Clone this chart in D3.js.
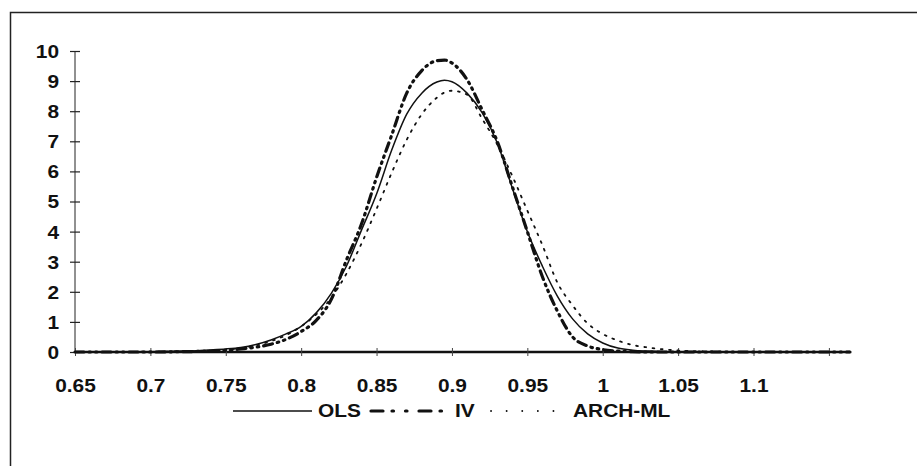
<!DOCTYPE html>
<html>
<head>
<meta charset="utf-8">
<script src="https://cdn.jsdelivr.net/npm/d3@7/dist/d3.min.js"></script>
<style>
  html, body { margin: 0; padding: 0; background: #fff; }
  svg { display: block; }
  text { font-family: "Liberation Sans", Arial, sans-serif; font-weight: bold; fill: #111; }
</style>
</head>
<body>
<svg id="chart" width="917" height="466"></svg>
<script>
// ---- data ----
const xValues = [0.65, 0.70, 0.72, 0.74, 0.75, 0.76, 0.77, 0.78, 0.79, 0.80,
                 0.81, 0.82, 0.83, 0.84, 0.85, 0.86, 0.87, 0.88, 0.89, 0.895,
                 0.90, 0.91, 0.92, 0.93, 0.94, 0.95, 0.96, 0.97, 0.98, 0.99,
                 1.00, 1.01, 1.02, 1.03, 1.04, 1.05, 1.07, 1.10, 1.164];
const olsValues = [0.00, 0.01, 0.03, 0.07, 0.10, 0.15, 0.25, 0.40, 0.60, 0.85,
                   1.30, 1.95, 2.85, 4.05, 5.25, 6.70, 7.90, 8.60, 8.97, 9.03,
                   8.98, 8.60, 7.95, 6.95, 5.45, 4.00, 2.85, 1.85, 1.10, 0.60,
                   0.30, 0.13, 0.06, 0.03, 0.01, 0.00, 0.00, 0.00, 0.00];
const ivValues  = [0.00, 0.00, 0.01, 0.03, 0.05, 0.10, 0.16, 0.26, 0.42, 0.68,
                   1.05, 1.75, 3.05, 4.25, 5.80, 7.20, 8.60, 9.35, 9.68, 9.70,
                   9.60, 9.05, 8.05, 7.00, 5.50, 4.00, 2.50, 1.35, 0.50, 0.20,
                   0.08, 0.03, 0.01, 0.00, 0.00, 0.00, 0.00, 0.00, 0.00];
const archValues = [0.00, 0.01, 0.02, 0.05, 0.08, 0.13, 0.22, 0.36, 0.56, 0.85,
                    1.25, 1.80, 2.60, 3.60, 4.75, 5.95, 7.05, 7.90, 8.45, 8.62,
                    8.68, 8.55, 7.75, 6.90, 5.85, 4.70, 3.55, 2.30, 1.55, 0.95,
                    0.60, 0.38, 0.23, 0.15, 0.09, 0.05, 0.02, 0.00, 0.00];
const xTickValues = [0.65, 0.70, 0.75, 0.80, 0.85, 0.90, 0.95, 1.00, 1.05, 1.10, 1.15];
const xTickLabels = ["0.65", "0.7", "0.75", "0.8", "0.85", "0.9", "0.95", "1", "1.05", "1.1", ""];
const yTickValues = [0, 1, 2, 3, 4, 5, 6, 7, 8, 9, 10];
const seriesNames = ["OLS", "IV", "ARCH-ML"];

// ---- layout ----
const svg = d3.select("#chart");
const SX = 1.16; // horizontal stretch of the scanned lettering
const FS = "18px";
const x = d3.scaleLinear().domain([0.65, 1.164]).range([75, 850]);
const y = d3.scaleLinear().domain([0, 10]).range([352, 51]);

// frame (top and left edges visible)
svg.append("path")
  .attr("d", "M10.5,466 L10.5,12.5 L917,12.5")
  .attr("fill", "none").attr("stroke", "#222").attr("stroke-width", 1.5);

// y axis
const yAxis = svg.append("g").attr("transform", `translate(${x(0.65)},0)`)
  .call(d3.axisLeft(y).tickValues(yTickValues).tickFormat(d3.format("d")).tickSize(5).tickPadding(0));
yAxis.select(".domain").attr("stroke", "#222").attr("stroke-width", 1)
  .attr("d", `M0,${y(10)}V${y(0)}`);
yAxis.selectAll(".tick line").attr("x1", 5).attr("x2", -5).attr("stroke", "#222").attr("stroke-width", 1.2);
yAxis.selectAll(".tick text")
  .attr("x", -16 / SX).attr("dy", "0.36em")
  .attr("transform", `scale(${SX},1)`)
  .style("font-size", FS)
  .attr("fill", "#111");

// x axis
const xAxis = svg.append("g").attr("transform", `translate(0,${y(0)})`)
  .call(d3.axisBottom(x).tickValues(xTickValues)
        .tickFormat((d, i) => xTickLabels[i]).tickSize(3).tickPadding(0));
xAxis.select(".domain").attr("stroke", "#111").attr("stroke-width", 2.4)
  .attr("d", `M${x(0.65)},0H${x(1.164)}`);
xAxis.selectAll(".tick line").attr("y1", -4).attr("y2", 4).attr("stroke", "#444").attr("stroke-width", 1);
xAxis.selectAll(".tick text")
  .attr("y", 40).attr("dy", "0")
  .attr("transform", `scale(${SX},1)`)
  .style("font-size", FS)
  .attr("fill", "#111");
svg.selectAll("g").attr("font-family", null).attr("font-size", null);

// lines
const pts = vals => xValues.map((xv, i) => [xv, vals[i]]);
const line = d3.line().x(d => x(d[0])).y(d => y(d[1])).curve(d3.curveMonotoneX);

const styles = [
  { vals: archValues, w: 1.8, dash: "1.8,6.5", cap: "round" },
  { vals: olsValues,  w: 1.5, dash: null, cap: "butt" },
  { vals: ivValues,   w: 3.2, dash: "9,5,1.5,5,1.5,5", cap: "round" }
];
styles.forEach(s => {
  svg.append("path")
    .attr("d", line(pts(s.vals)))
    .attr("fill", "none").attr("stroke", "#111")
    .attr("stroke-width", s.w)
    .attr("stroke-linecap", s.cap)
    .attr("stroke-dasharray", s.dash);
});

// legend
const legendY = 411;
const legendItems = [
  { name: seriesNames[0], x1: 233, x2: 312, tx: 318, w: 1.5, dash: null, cap: "butt" },
  { name: seriesNames[1], x1: 371, x2: 449, tx: 455, w: 3.2, dash: "12,9,1.5,12,1.5,12", cap: "round" },
  { name: seriesNames[2], x1: 491, x2: 555, tx: 573, w: 1.8, dash: "0.1,15.5", cap: "round" }
];
legendItems.forEach(it => {
  svg.append("line")
    .attr("x1", it.x1).attr("x2", it.x2).attr("y1", legendY).attr("y2", legendY)
    .attr("stroke", "#111").attr("stroke-width", it.w)
    .attr("stroke-linecap", it.cap)
    .attr("stroke-dasharray", it.dash);
  svg.append("text")
    .attr("transform", `translate(${it.tx},${legendY}) scale(${SX},1)`)
    .attr("dy", "0.36em")
    .style("font-size", FS)
    .text(it.name);
});
</script>
</body>
</html>
